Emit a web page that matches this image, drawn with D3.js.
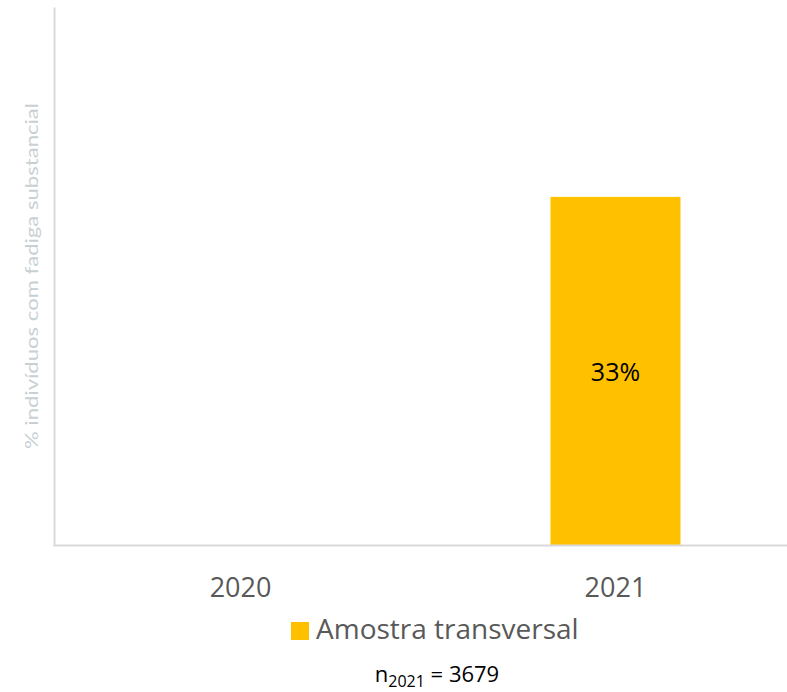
<!DOCTYPE html>
<html>
<head>
<meta charset="utf-8">
<script src="https://cdn.jsdelivr.net/npm/d3@7/dist/d3.min.js"></script>
<style>
html,body{margin:0;padding:0;background:#fff;overflow:hidden;}
svg{display:block;}
</style>
</head>
<body>
<svg id="chart" width="787" height="692"></svg>
<script>
const categories = ["2020", "2021"];
const values = [null, 0.33];
const valueLabels = ["", "33%"];
const seriesName = "Amostra transversal";
const yTitle = "% indivíduos com fadiga substancial";
const nLabel = { base: "n", sub: "2021", rest: " = 3679" };

const svg = d3.select("#chart");
const W = 787, H = 692;
const axisX = 54;
const x0 = 53, x1 = 803;
const yTop = 7, yBot = 545;

const x = d3.scaleBand().domain(categories).range([x0, x1])
  .paddingInner(0.6533).paddingOuter(0.3267);
const y = d3.scaleLinear().domain([0, 0.51]).range([yBot, yTop]);

const data = categories.map((c, i) => ({ c, v: values[i], label: valueLabels[i] }));

// bars
svg.append("g").selectAll("rect").data(data.filter(d => d.v != null)).join("rect")
  .attr("x", d => x(d.c)).attr("width", x.bandwidth())
  .attr("y", d => y(d.v)).attr("height", d => y(0) - y(d.v))
  .attr("fill", "#ffc000");

// value labels
svg.append("g").selectAll("text").data(data.filter(d => d.v != null)).join("text")
  .attr("x", d => x(d.c) + x.bandwidth() / 2)
  .attr("y", d => (y(d.v) + y(0)) / 2 + 10)
  .attr("text-anchor", "middle")
  .attr("font-family", "'Open Sans', sans-serif")
  .attr("font-size", 25)
  .attr("fill", "#000")
  .text(d => d.label);

// x axis
const xAxis = d3.axisBottom(x).tickSize(0).tickPadding(0);
svg.append("g").attr("transform", `translate(0,${yBot})`).call(xAxis)
  .call(g => g.select(".domain").attr("stroke", "#d9d9d9").attr("stroke-width", 2))
  .call(g => g.selectAll(".tick text")
    .attr("dy", null).attr("y", 52)
    .attr("font-family", "'Open Sans', sans-serif")
    .attr("font-size", 27).attr("fill", "#595959"));

// y axis line
const yAxis = d3.axisLeft(y).ticks(0).tickSize(0).tickFormat("");
svg.append("g").attr("transform", `translate(${axisX},0)`).call(yAxis)
  .call(g => g.select(".domain").attr("stroke", "#d9d9d9").attr("stroke-width", 2));

// y title
svg.append("text")
  .attr("transform", `translate(38,${(yTop + yBot) / 2}) rotate(-90)`)
  .attr("text-anchor", "middle")
  .attr("font-family", "'Lato', sans-serif")
  .attr("font-size", 17)
  .attr("fill", "#c8d0d4")
  .attr("textLength", 346)
  .attr("lengthAdjust", "spacingAndGlyphs")
  .text(yTitle);

// legend
const lg = svg.append("g");
lg.append("rect").attr("x", 291).attr("y", 622).attr("width", 18).attr("height", 18).attr("fill", "#ffc000");
lg.append("text").attr("x", 316).attr("y", 639)
  .attr("font-family", "'Open Sans', sans-serif").attr("font-size", 28)
  .attr("fill", "#595959").text(seriesName);

// n label
const nt = svg.append("text").attr("x", 437).attr("y", 682).attr("text-anchor", "middle")
  .attr("font-family", "'Open Sans', sans-serif").attr("font-size", 22).attr("fill", "#000");
nt.append("tspan").text(nLabel.base);
nt.append("tspan").attr("font-size", 16).attr("dy", 5).text(nLabel.sub);
nt.append("tspan").attr("dy", -5).text(nLabel.rest);
</script>
</body>
</html>
